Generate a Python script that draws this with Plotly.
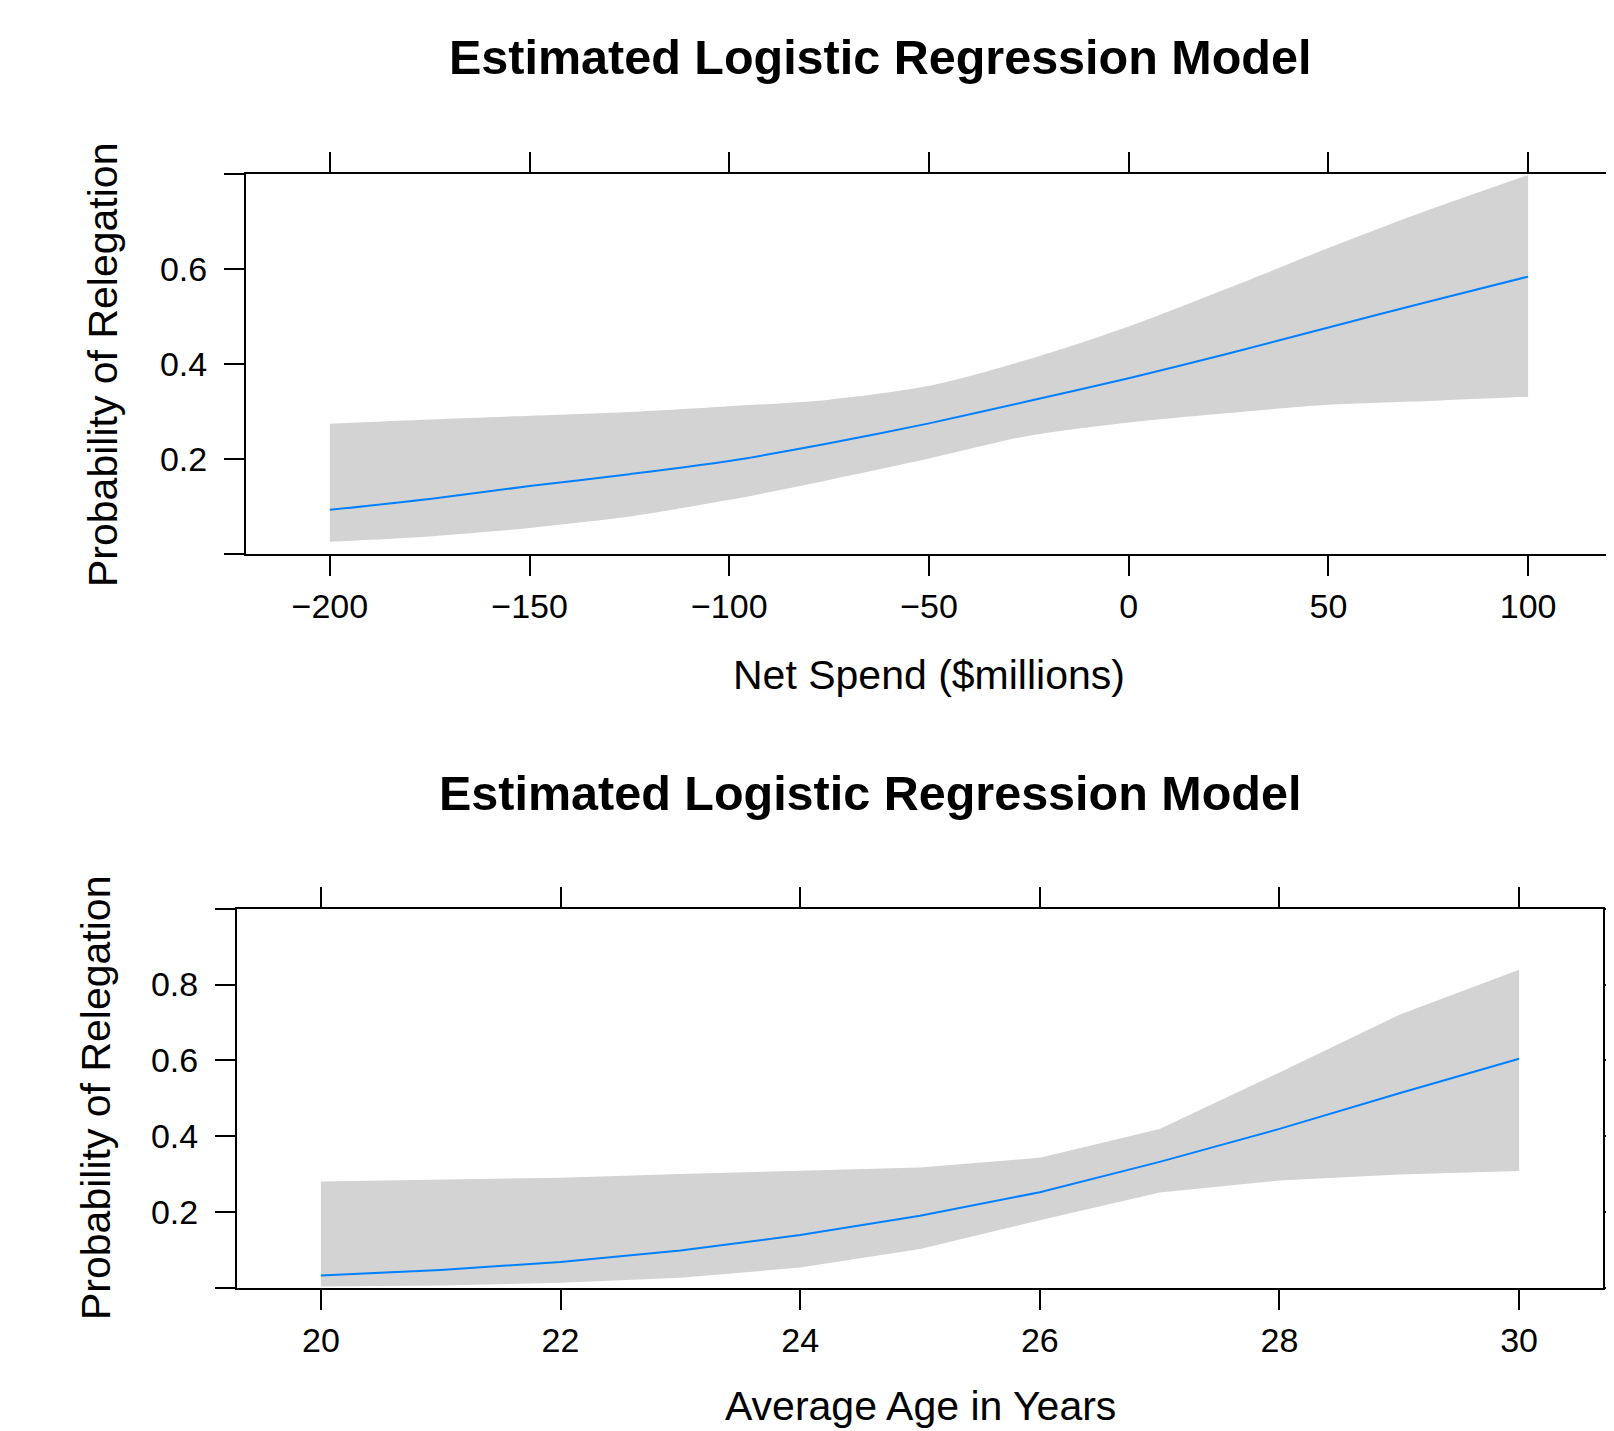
import plotly.graph_objects as go

# ---------------- data ----------------
net_spend = [-200, -175, -150, -125, -100, -75, -50, -25, 0, 25, 50, 75, 100]
spend_fit = [0.093, 0.116, 0.143, 0.168, 0.196, 0.233, 0.275, 0.322, 0.370, 0.422, 0.477, 0.531, 0.584]
spend_upper = [0.274, 0.283, 0.291, 0.299, 0.311, 0.325, 0.354, 0.410, 0.479, 0.560, 0.644, 0.724, 0.798]
spend_lower = [0.026, 0.037, 0.055, 0.079, 0.114, 0.156, 0.201, 0.249, 0.277, 0.297, 0.314, 0.322, 0.331]

age = [20, 21, 22, 23, 24, 25, 26, 27, 28, 29, 30]
age_fit = [0.032, 0.047, 0.068, 0.098, 0.139, 0.190, 0.252, 0.332, 0.419, 0.513, 0.604]
age_upper = [0.280, 0.285, 0.290, 0.300, 0.308, 0.317, 0.343, 0.419, 0.568, 0.720, 0.839]
age_lower = [0.003, 0.006, 0.013, 0.026, 0.053, 0.102, 0.178, 0.251, 0.283, 0.299, 0.308]

spend_ticks = [-200, -150, -100, -50, 0, 50, 100]
spend_ticktext = ["\u2212200", "\u2212150", "\u2212100", "\u221250", "0", "50", "100"]
prob_ticks_top = [0.0, 0.2, 0.4, 0.6, 0.8]
prob_ticktext_top = ["", "0.2", "0.4", "0.6", ""]
age_ticks = [20, 22, 24, 26, 28, 30]
age_ticktext = ["20", "22", "24", "26", "28", "30"]
prob_ticks_bot = [0.0, 0.2, 0.4, 0.6, 0.8, 1.0]
prob_ticktext_bot = ["", "0.2", "0.4", "0.6", "0.8", ""]

title_text = "Estimated Logistic Regression Model"
xlab_top = "Net Spend ($millions)"
xlab_bot = "Average Age in Years"
ylab = "Probability of Relegation"

# ---------------- layout helpers ----------------
# The page body has an 8px margin, so the figure is shifted by OFF px.
OFF = 8
W, H = 1614 - OFF, 1431 - OFF
FONT = "Liberation Sans, Arial, Helvetica, sans-serif"
BAND = "#d3d3d3"
LINE = "#0080ff"


def fx(px):
    return (px - OFF) / W


def fy(py):
    return 1 - (py - OFF) / H


fig = go.Figure()

# top panel
fig.add_trace(go.Scatter(x=net_spend, y=spend_lower, mode="lines", line=dict(width=0, shape="spline", smoothing=0.8),
                         showlegend=False, hoverinfo="skip", xaxis="x", yaxis="y"))
fig.add_trace(go.Scatter(x=net_spend, y=spend_upper, mode="lines", line=dict(width=0, shape="spline", smoothing=0.8),
                         fill="tonexty", fillcolor=BAND, showlegend=False, hoverinfo="skip", xaxis="x", yaxis="y"))
fig.add_trace(go.Scatter(x=net_spend, y=spend_fit, mode="lines", line=dict(color=LINE, width=2, shape="spline", smoothing=0.8),
                         showlegend=False, xaxis="x", yaxis="y"))

# bottom panel
fig.add_trace(go.Scatter(x=age, y=age_lower, mode="lines", line=dict(width=0),
                         showlegend=False, hoverinfo="skip", xaxis="x2", yaxis="y2"))
fig.add_trace(go.Scatter(x=age, y=age_upper, mode="lines", line=dict(width=0),
                         fill="tonexty", fillcolor=BAND, showlegend=False, hoverinfo="skip", xaxis="x2", yaxis="y2"))
fig.add_trace(go.Scatter(x=age, y=age_fit, mode="lines", line=dict(color=LINE, width=2),
                         showlegend=False, xaxis="x2", yaxis="y2"))

axis_common = dict(showline=True, linewidth=2, linecolor="black", mirror="allticks",
                   ticks="outside", ticklen=20, tickwidth=2, tickcolor="black",
                   showgrid=False, zeroline=False, tickmode="array",
                   tickfont=dict(family=FONT, size=34, color="black"))

fig.update_layout(
    width=W, height=H,
    margin=dict(l=0, r=0, t=0, b=0, autoexpand=False),
    paper_bgcolor="white", plot_bgcolor="white",
    showlegend=False,
    xaxis=dict(domain=[fx(246), fx(1612)], range=[-221, 121], anchor="y",
               tickvals=spend_ticks, ticktext=spend_ticktext, ticklabelstandoff=1, **axis_common),
    yaxis=dict(domain=[fy(554), fy(174)], range=[0, 0.8], anchor="x",
               tickvals=prob_ticks_top, ticktext=prob_ticktext_top, ticklabelstandoff=10, **axis_common),
    xaxis2=dict(domain=[fx(237), fx(1603)], range=[19.3, 30.7], anchor="y2",
                tickvals=age_ticks, ticktext=age_ticktext, ticklabelstandoff=1, **axis_common),
    yaxis2=dict(domain=[fy(1287.7), fy(908.7)], range=[0, 1.0], anchor="x2",
                tickvals=prob_ticks_bot, ticktext=prob_ticktext_bot, ticklabelstandoff=10, **axis_common),
)

annos = [
    dict(text="<b>" + title_text + "</b>", x=fx(880), y=fy(57), size=48.5),
    dict(text="<b>" + title_text + "</b>", x=fx(870), y=fy(793), size=48.5),
    dict(text=xlab_top, x=fx(929), y=fy(675), size=41),
    dict(text=xlab_bot, x=fx(920), y=fy(1406), size=41),
]
for a in annos:
    fig.add_annotation(text=a["text"], x=a["x"], y=a["y"], xref="paper", yref="paper",
                       xanchor="center", yanchor="middle", showarrow=False,
                       font=dict(family=FONT, size=a["size"], color="black"))

for xc, yc in [(103, 365), (96, 1098)]:
    fig.add_annotation(text=ylab, x=fx(xc), y=fy(yc), xref="paper", yref="paper",
                       xanchor="center", yanchor="middle", textangle=-90, showarrow=False,
                       font=dict(family=FONT, size=41, color="black"))

fig.write_html("out.html")
